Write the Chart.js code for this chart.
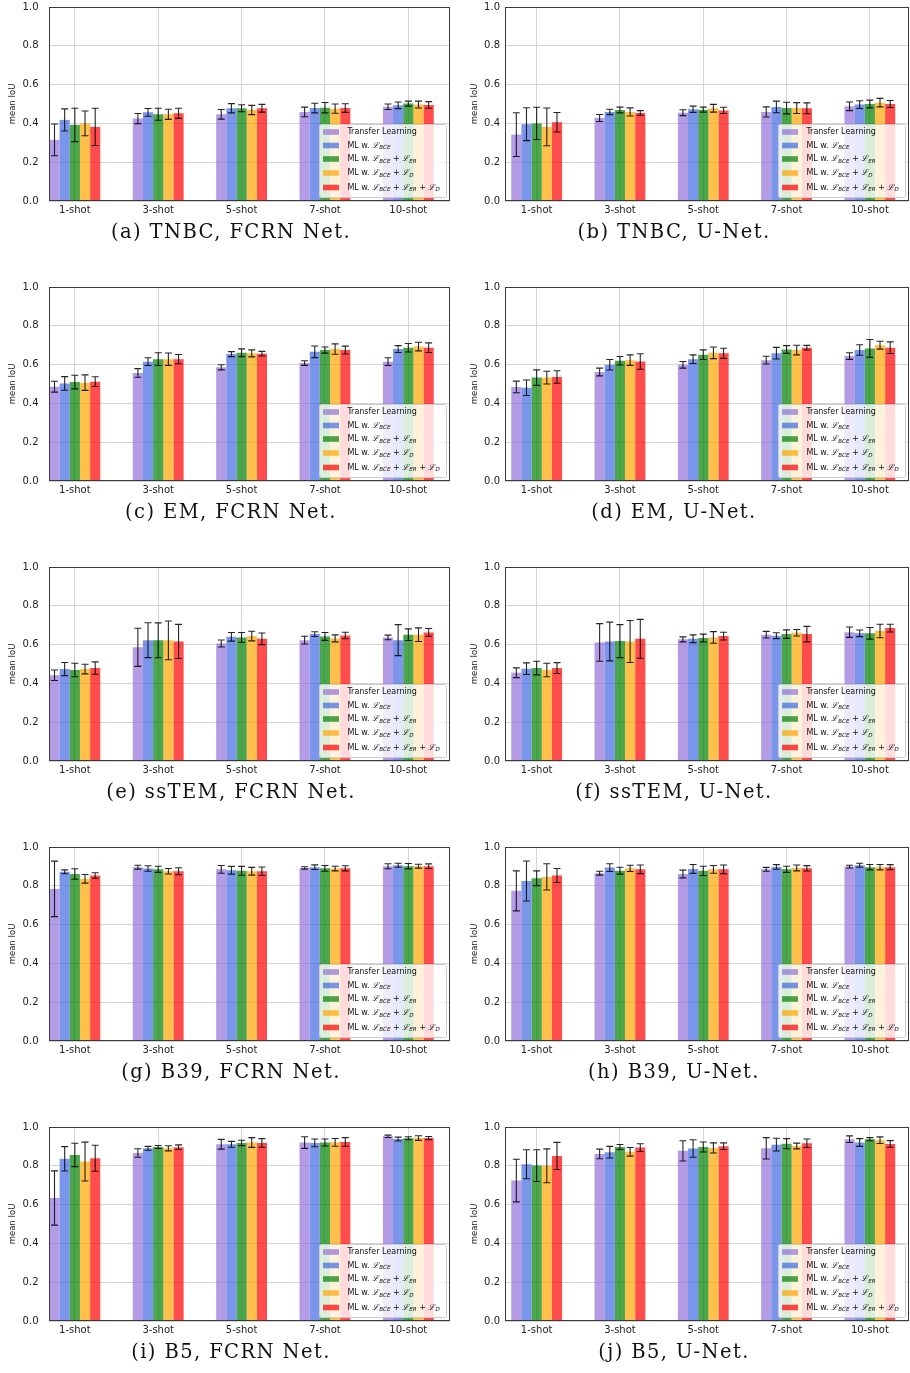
<!DOCTYPE html>
<html>
<head>
<meta charset="utf-8">
<title>mean IoU, few-shot segmentation</title>
<script src="https://cdn.jsdelivr.net/npm/chart.js@4.4.1"></script>
<style>
    html, body {
        margin: 0;
        padding: 0;
        background: #fff;
    }
    #page {
        position: relative;
        width: 910px;
        height: 1373px;
        overflow: hidden;
    }
    .cell {
        position: absolute;
        width: 455px;
        height: 280px;
    }
    .cell canvas {
        position: absolute;
        left: 0;
        top: 0;
    }
    .caption {
        position: absolute;
        top: 221px;
        font-family: 'DejaVu Serif', serif;
        font-size: 19.5px;
        line-height: 22px;
        letter-spacing: 1.4px;
        white-space: nowrap;
        color: #111;
        transform: translateX(-50%);
    }
</style>
</head>
<body>
<div id="page"></div>
<script>
const shots = ['1-shot', '3-shot', '5-shot', '7-shot', '10-shot'];
const methods = [
    'Transfer Learning',
    'ML w. ℒ_{BCE}',
    'ML w. ℒ_{BCE} + ℒ_{ER}',
    'ML w. ℒ_{BCE} + ℒ_{D}',
    'ML w. ℒ_{BCE} + ℒ_{ER} + ℒ_{D}'
];
const colors = ['rgba(147,112,219,0.7)', 'rgba(65,105,225,0.7)', 'rgba(0,128,0,0.7)', 'rgba(255,165,0,0.7)', 'rgba(255,0,0,0.7)'];
const yTicks = [0, 0.2, 0.4, 0.6, 0.8, 1.0];

// one row per method, one column per shot setting
const tnbcFcrnMean = [
    [0.315, 0.425, 0.447, 0.459, 0.486],
    [0.418, 0.457, 0.478, 0.479, 0.493],
    [0.392, 0.447, 0.478, 0.481, 0.502],
    [0.400, 0.447, 0.469, 0.476, 0.497],
    [0.382, 0.452, 0.478, 0.479, 0.495]];
const tnbcFcrnErr = [
    [0.082, 0.026, 0.025, 0.025, 0.014],
    [0.057, 0.020, 0.024, 0.025, 0.017],
    [0.086, 0.031, 0.018, 0.027, 0.013],
    [0.064, 0.026, 0.024, 0.024, 0.018],
    [0.096, 0.026, 0.020, 0.022, 0.017]];

const tnbcUnetMean = [
    [0.342, 0.428, 0.455, 0.459, 0.488],
    [0.396, 0.459, 0.473, 0.485, 0.497],
    [0.400, 0.469, 0.471, 0.479, 0.500],
    [0.382, 0.459, 0.478, 0.479, 0.507],
    [0.406, 0.454, 0.467, 0.478, 0.500]];
const tnbcUnetErr = [
    [0.113, 0.018, 0.015, 0.026, 0.022],
    [0.085, 0.014, 0.016, 0.030, 0.020],
    [0.083, 0.015, 0.013, 0.030, 0.020],
    [0.097, 0.021, 0.020, 0.028, 0.022],
    [0.050, 0.012, 0.016, 0.028, 0.018]];

const emFcrnMean = [
    [0.486, 0.557, 0.586, 0.608, 0.615],
    [0.503, 0.615, 0.654, 0.666, 0.680],
    [0.510, 0.628, 0.661, 0.675, 0.687],
    [0.507, 0.628, 0.658, 0.680, 0.693],
    [0.512, 0.628, 0.656, 0.675, 0.687]];
const emFcrnErr = [
    [0.028, 0.022, 0.013, 0.012, 0.020],
    [0.035, 0.020, 0.013, 0.030, 0.018],
    [0.035, 0.033, 0.020, 0.016, 0.022],
    [0.040, 0.032, 0.018, 0.027, 0.022],
    [0.025, 0.024, 0.012, 0.020, 0.025]];

const emUnetMean = [
    [0.485, 0.562, 0.599, 0.623, 0.644],
    [0.481, 0.599, 0.628, 0.659, 0.675],
    [0.533, 0.620, 0.651, 0.678, 0.683],
    [0.533, 0.623, 0.661, 0.675, 0.700],
    [0.536, 0.616, 0.658, 0.687, 0.687]];
const emUnetErr = [
    [0.030, 0.020, 0.017, 0.020, 0.017],
    [0.040, 0.027, 0.022, 0.030, 0.027],
    [0.040, 0.022, 0.025, 0.020, 0.046],
    [0.033, 0.027, 0.030, 0.025, 0.020],
    [0.032, 0.040, 0.026, 0.012, 0.030]];

const sstemFcrnMean = [
    [0.442, 0.586, 0.606, 0.623, 0.637],
    [0.474, 0.623, 0.640, 0.654, 0.623],
    [0.469, 0.622, 0.637, 0.642, 0.651],
    [0.474, 0.622, 0.644, 0.632, 0.651],
    [0.479, 0.616, 0.630, 0.647, 0.663]];
const sstemFcrnErr = [
    [0.027, 0.098, 0.018, 0.020, 0.012],
    [0.034, 0.090, 0.022, 0.012, 0.080],
    [0.035, 0.090, 0.025, 0.020, 0.030],
    [0.025, 0.100, 0.025, 0.018, 0.035],
    [0.032, 0.088, 0.030, 0.017, 0.020]];

const sstemUnetMean = [
    [0.455, 0.611, 0.627, 0.651, 0.664],
    [0.476, 0.616, 0.630, 0.646, 0.658],
    [0.479, 0.618, 0.634, 0.654, 0.658],
    [0.469, 0.616, 0.637, 0.661, 0.670],
    [0.479, 0.630, 0.644, 0.654, 0.685]];
const sstemUnetErr = [
    [0.025, 0.097, 0.013, 0.017, 0.027],
    [0.030, 0.100, 0.020, 0.015, 0.017],
    [0.035, 0.085, 0.020, 0.022, 0.030],
    [0.035, 0.108, 0.030, 0.017, 0.035],
    [0.028, 0.100, 0.020, 0.040, 0.020]];

const b39FcrnMean = [
    [0.784, 0.896, 0.885, 0.892, 0.901],
    [0.872, 0.889, 0.880, 0.896, 0.906],
    [0.861, 0.885, 0.877, 0.890, 0.901],
    [0.836, 0.875, 0.875, 0.889, 0.901],
    [0.853, 0.875, 0.875, 0.890, 0.901]];
const b39FcrnErr = [
    [0.143, 0.010, 0.020, 0.006, 0.013],
    [0.010, 0.014, 0.020, 0.012, 0.010],
    [0.027, 0.016, 0.023, 0.015, 0.014],
    [0.022, 0.014, 0.020, 0.012, 0.010],
    [0.014, 0.018, 0.022, 0.013, 0.012]];

const b39UnetMean = [
    [0.774, 0.865, 0.861, 0.885, 0.899],
    [0.825, 0.894, 0.887, 0.897, 0.906],
    [0.839, 0.878, 0.877, 0.885, 0.896],
    [0.846, 0.890, 0.885, 0.892, 0.896],
    [0.853, 0.885, 0.885, 0.890, 0.896]];
const b39UnetErr = [
    [0.103, 0.010, 0.020, 0.010, 0.007],
    [0.103, 0.020, 0.023, 0.012, 0.010],
    [0.038, 0.018, 0.024, 0.016, 0.014],
    [0.068, 0.016, 0.020, 0.015, 0.014],
    [0.036, 0.022, 0.022, 0.014, 0.013]];

const b5FcrnMean = [
    [0.634, 0.866, 0.911, 0.920, 0.952],
    [0.836, 0.890, 0.911, 0.918, 0.938],
    [0.856, 0.897, 0.918, 0.920, 0.942],
    [0.822, 0.890, 0.920, 0.921, 0.943],
    [0.839, 0.896, 0.918, 0.923, 0.943]];
const b5FcrnErr = [
    [0.140, 0.022, 0.025, 0.030, 0.006],
    [0.063, 0.010, 0.015, 0.020, 0.010],
    [0.060, 0.008, 0.014, 0.018, 0.008],
    [0.100, 0.013, 0.025, 0.020, 0.012],
    [0.067, 0.012, 0.022, 0.022, 0.008]];

const b5UnetMean = [
    [0.724, 0.861, 0.877, 0.890, 0.937],
    [0.808, 0.870, 0.889, 0.909, 0.920],
    [0.801, 0.897, 0.897, 0.914, 0.937],
    [0.800, 0.872, 0.892, 0.902, 0.932],
    [0.851, 0.894, 0.901, 0.916, 0.913]];
const b5UnetErr = [
    [0.110, 0.025, 0.052, 0.055, 0.017],
    [0.075, 0.030, 0.045, 0.033, 0.020],
    [0.082, 0.013, 0.026, 0.026, 0.008],
    [0.087, 0.022, 0.026, 0.015, 0.017],
    [0.070, 0.020, 0.017, 0.022, 0.017]];

const panels = [
    {caption: '(a) TNBC, FCRN Net.', mean: tnbcFcrnMean, err: tnbcFcrnErr},
    {caption: '(b) TNBC, U-Net.', mean: tnbcUnetMean, err: tnbcUnetErr},
    {caption: '(c) EM, FCRN Net.', mean: emFcrnMean, err: emFcrnErr},
    {caption: '(d) EM, U-Net.', mean: emUnetMean, err: emUnetErr},
    {caption: '(e) ssTEM, FCRN Net.', mean: sstemFcrnMean, err: sstemFcrnErr},
    {caption: '(f) ssTEM, U-Net.', mean: sstemUnetMean, err: sstemUnetErr},
    {caption: '(g) B39, FCRN Net.', mean: b39FcrnMean, err: b39FcrnErr},
    {caption: '(h) B39, U-Net.', mean: b39UnetMean, err: b39UnetErr},
    {caption: '(i) B5, FCRN Net.', mean: b5FcrnMean, err: b5FcrnErr},
    {caption: '(j) B5, U-Net.', mean: b5UnetMean, err: b5UnetErr}
];

// the two columns of the figure were cropped a little differently
const columns = [
    {yW: 49, yGap: 10.5, titlePad: 8, padRight: 5, xMin: -0.31, xMax: 4.5, captionX: 231},
    {yW: 50, yGap: 5, titlePad: 15, padRight: 1, xMin: -0.38, xMax: 4.47, captionX: 219}
];

const tickFont = {family: 'DejaVu Sans', size: 10};

function drawMathLabel(ctx, text, x, y) {
    const parts = text.split(/(ℒ_\{\w+\})/);
    ctx.fillStyle = '#111';
    ctx.textBaseline = 'middle';
    ctx.textAlign = 'left';
    parts.forEach(p => {
        const m = p.match(/^ℒ_\{(\w+)\}$/);
        if (m) {
            ctx.font = 'italic 8px "DejaVu Serif"';
            ctx.fillText('ℒ', x, y);
            x += ctx.measureText('ℒ').width;
            ctx.font = 'italic 5.6px "DejaVu Sans"';
            ctx.fillText(m[1], x, y + 2.2);
            x += ctx.measureText(m[1]).width;
        } else if (p) {
            ctx.font = '8px "DejaVu Sans"';
            ctx.fillText(p, x, y);
            x += ctx.measureText(p).width;
        }
    });
}

function makeExtras(errs) {
    return {
        id: 'extras',
        afterDatasetsDraw(chart) {
            const ctx = chart.ctx;
            const y = chart.scales.y;
            ctx.save();
            ctx.strokeStyle = 'rgba(0,0,0,0.85)';
            ctx.lineWidth = 1.1;
            chart.data.datasets.forEach((ds, i) => {
                chart.getDatasetMeta(i).data.forEach((bar, j) => {
                    const v = ds.data[j].y;
                    const e = errs[i][j];
                    const y0 = y.getPixelForValue(v - e);
                    const y1 = y.getPixelForValue(v + e);
                    ctx.beginPath();
                    ctx.moveTo(bar.x, y0);
                    ctx.lineTo(bar.x, y1);
                    ctx.moveTo(bar.x - 3.5, y0);
                    ctx.lineTo(bar.x + 3.5, y0);
                    ctx.moveTo(bar.x - 3.5, y1);
                    ctx.lineTo(bar.x + 3.5, y1);
                    ctx.stroke();
                });
            });
            ctx.restore();
        },
        afterDraw(chart) {
            const ctx = chart.ctx;
            const a = chart.chartArea;
            ctx.save();
            // frame
            ctx.strokeStyle = '#3a3a3a';
            ctx.lineWidth = 1;
            ctx.strokeRect(a.left + 0.5, a.top + 0.5, a.right - a.left - 1, a.bottom - a.top - 1);
            // legend
            const w = 127, h = 73;
            const lx = Math.round(a.right - 4 - w), ly = Math.round(a.bottom - 4 - h);
            ctx.beginPath();
            ctx.roundRect(lx + 0.5, ly + 0.5, w, h, 2);
            ctx.fillStyle = 'rgba(255,255,255,0.8)';
            ctx.fill();
            ctx.strokeStyle = '#cccccc';
            ctx.stroke();
            const rowY = [8, 21.5, 35, 49, 63.5];
            methods.forEach((m, i) => {
                const cy = ly + rowY[i];
                ctx.fillStyle = colors[i];
                ctx.fillRect(lx + 4, cy - 2.8, 16, 5.6);
                drawMathLabel(ctx, m, lx + 28.4, cy);
            });
            ctx.restore();
        }
    };
}

function buildChart(canvas, panel, col) {
    const c = columns[col];
    return new Chart(canvas, {
        type: 'bar',
        data: {
            datasets: methods.map((m, i) => ({
                label: m,
                data: panel.mean[i].map((v, j) => ({x: j, y: v})),
                backgroundColor: colors[i],
                borderWidth: 0,
                categoryPercentage: 0.61,
                barPercentage: 1
            }))
        },
        options: {
            responsive: false,
            animation: false,
            devicePixelRatio: 1,
            layout: {padding: {left: 0, top: 7, right: c.padRight, bottom: 57}},
            plugins: {legend: {display: false}, tooltip: {enabled: false}},
            scales: {
                x: {
                    type: 'linear',
                    min: c.xMin,
                    max: c.xMax,
                    offset: false,
                    afterBuildTicks: s => { s.ticks = shots.map((_, i) => ({value: i})); },
                    afterFit: s => { s.height = 22; },
                    ticks: {
                        callback: v => shots[v] ?? '',
                        font: tickFont,
                        color: '#222',
                        padding: 3,
                        maxRotation: 0,
                        autoSkip: false
                    },
                    grid: {color: '#d4d4d4', lineWidth: 1, drawTicks: false, offset: false},
                    border: {display: false}
                },
                y: {
                    min: 0,
                    max: 1,
                    afterBuildTicks: s => { s.ticks = yTicks.map(v => ({value: v})); },
                    afterFit: s => { s.width = c.yW; },
                    ticks: {
                        callback: v => v.toFixed(1),
                        font: tickFont,
                        color: '#222',
                        padding: 0
                    },
                    title: {
                        display: true,
                        text: 'mean IoU',
                        font: {family: 'DejaVu Sans', size: 8.5},
                        color: '#222',
                        padding: {top: c.titlePad, bottom: 0}
                    },
                    grid: {color: '#d4d4d4', lineWidth: 1, drawTicks: true, tickLength: c.yGap, tickColor: 'rgba(0,0,0,0)'},
                    border: {display: false}
                }
            }
        },
        plugins: [makeExtras(panel.err)]
    });
}

const page = document.getElementById('page');
panels.forEach((panel, k) => {
    const col = k % 2, row = Math.floor(k / 2);
    const cell = document.createElement('div');
    cell.className = 'cell';
    cell.style.left = (col * 455) + 'px';
    cell.style.top = (row * 280) + 'px';
    const canvas = document.createElement('canvas');
    canvas.width = 455;
    canvas.height = 280;
    canvas.style.width = '455px';
    canvas.style.height = '280px';
    cell.appendChild(canvas);
    const cap = document.createElement('div');
    cap.className = 'caption';
    cap.style.left = columns[col].captionX + 'px';
    cap.textContent = panel.caption;
    cell.appendChild(cap);
    page.appendChild(cell);
    buildChart(canvas, panel, col);
});
</script>
</body>
</html>
